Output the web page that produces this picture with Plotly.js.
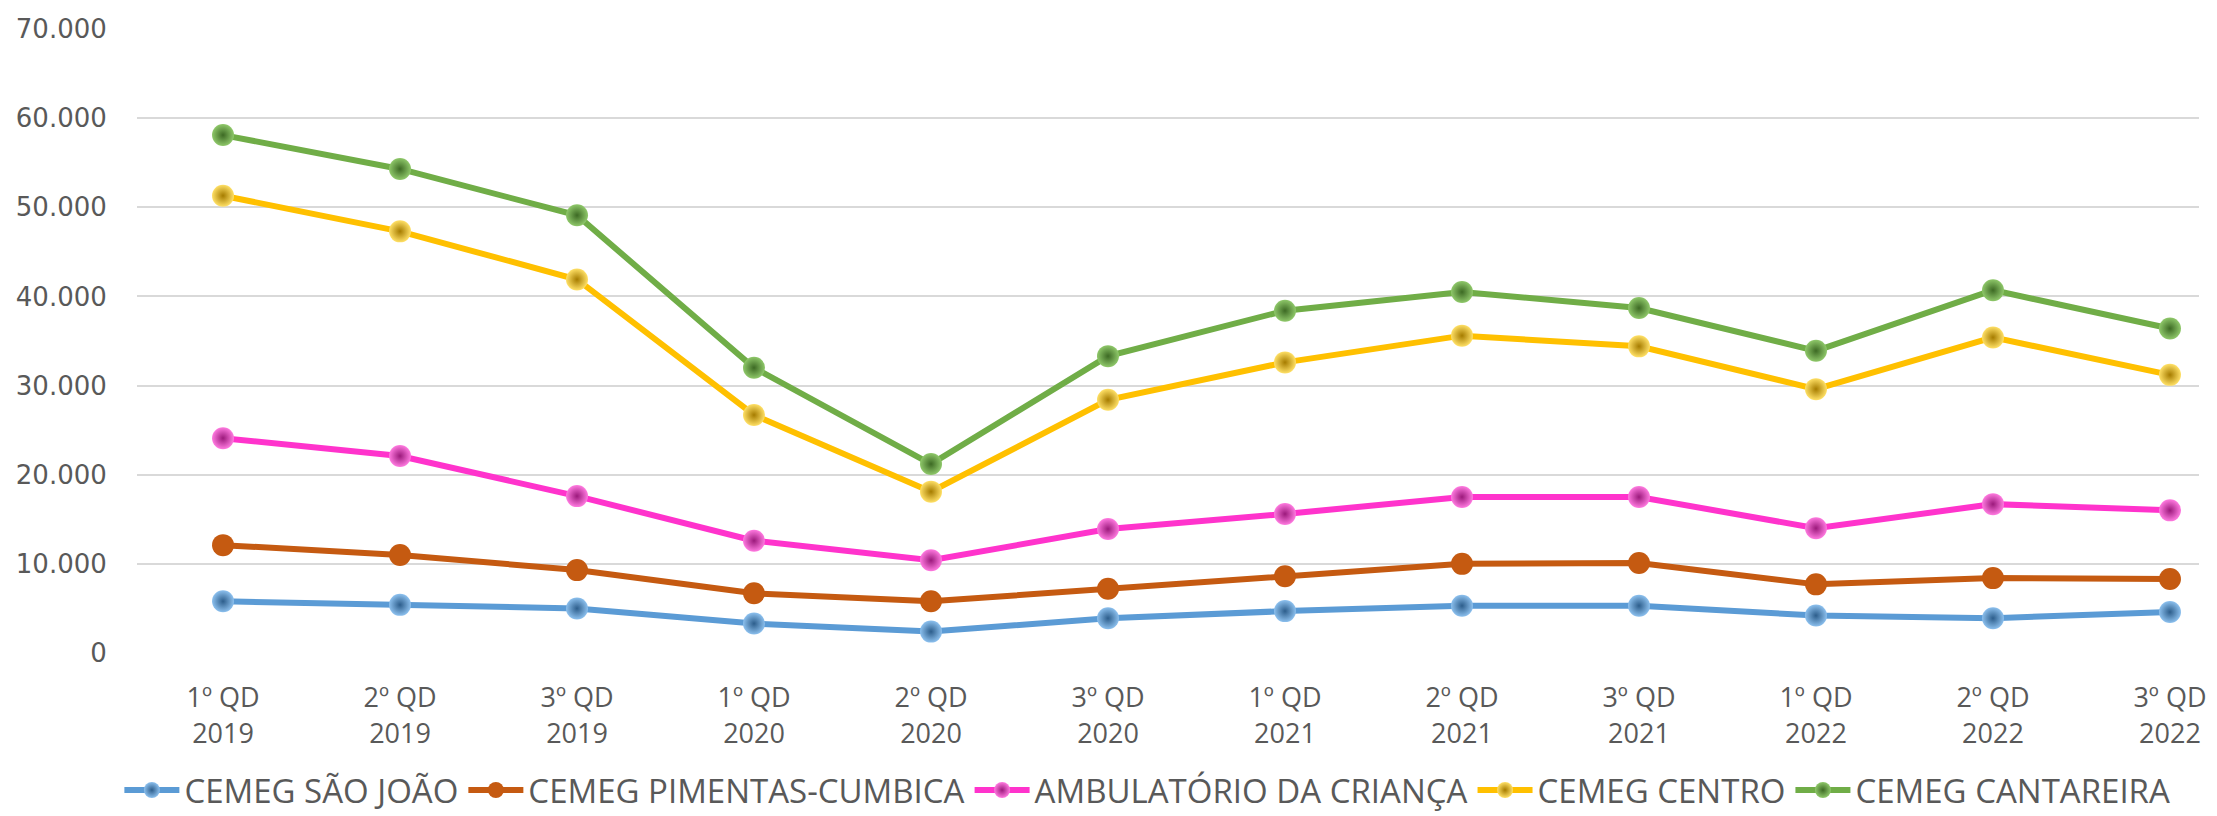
<!DOCTYPE html>
<html>
<head>
<meta charset="utf-8">
<script src="https://cdn.plot.ly/plotly-3.0.1.min.js"></script>
<style>html,body{margin:0;padding:0;background:#fff;}#chart{width:2217px;height:816px;}</style>
</head>
<body>
<div id="chart"></div>
<script>
var categories = ["1º QD<br>2019","2º QD<br>2019","3º QD<br>2019","1º QD<br>2020","2º QD<br>2020","3º QD<br>2020","1º QD<br>2021","2º QD<br>2021","3º QD<br>2021","1º QD<br>2022","2º QD<br>2022","3º QD<br>2022"];
var seriesNames = ["CEMEG SÃO JOÃO","CEMEG PIMENTAS-CUMBICA","AMBULATÓRIO DA CRIANÇA","CEMEG CENTRO","CEMEG CANTAREIRA"];
var saoJoao    = [5800, 5400, 5000, 3300, 2400, 3900, 4700, 5300, 5300, 4200, 3900, 4600];
var pimentas   = [12100, 11000, 9300, 6700, 5800, 7200, 8600, 10000, 10100, 7700, 8400, 8300];
var ambulatorio= [24100, 22100, 17600, 12600, 10400, 13900, 15600, 17500, 17500, 14000, 16700, 16000];
var centro     = [51300, 47300, 41900, 26700, 18100, 28400, 32600, 35600, 34400, 29600, 35400, 31200];
var cantareira = [58100, 54300, 49100, 32000, 21200, 33300, 38400, 40500, 38700, 33900, 40700, 36400];

var seriesValues = [saoJoao, pimentas, ambulatorio, centro, cantareira];
var lineColors = ["#5B9BD5", "#C55A11", "#FF33CC", "#FFC000", "#70AD47"];
var markerCenter = ["#8cc0ee", "#C55A11", "#ff7ae0", "#ffe066", "#8fc86a"];
var markerEdge = ["#2d5e8c", "#C55A11", "#9c1a7c", "#a67c00", "#3d6a24"];

var traces = seriesValues.map(function(vals, i) {
  var t = {
    type: "scatter",
    mode: "lines+markers",
    name: seriesNames[i],
    x: categories,
    y: vals,
    line: {color: lineColors[i], width: 6},
    marker: {size: 22, color: markerCenter[i], line: {width: 0}}
  };
  if (i !== 1) {
    t.marker.gradient = {type: "radial", color: markerEdge[i]};
  }
  return t;
});

var layout = {
  width: 2217,
  height: 816,
  margin: {l: 137, r: 18, t: 29, b: 163, autoexpand: false},
  paper_bgcolor: "#ffffff",
  plot_bgcolor: "#ffffff",
  separators: ",.",
  showlegend: true,
  legend: {
    orientation: "h",
    x: 0.49, xanchor: "center",
    y: -0.2196, yanchor: "middle",
    font: {family: "Open Sans", size: 33, color: "#595959"},
    itemwidth: 55,
    bgcolor: "rgba(0,0,0,0)"
  },
  xaxis: {
    type: "category",
    range: [-0.486, 11.164],
    showgrid: false,
    showline: false,
    zeroline: false,
    ticks: "outside",
    ticklen: 21,
    tickcolor: "rgba(0,0,0,0)",
    tickfont: {family: "Open Sans", size: 27, color: "#595959"}
  },
  yaxis: {
    range: [0, 70000],
    dtick: 10000,
    tick0: 0,
    tickformat: ",d",
    showgrid: true,
    gridcolor: "#d9d9d9",
    gridwidth: 2,
    zeroline: false,
    showline: false,
    ticks: "outside",
    ticklen: 24,
    tickcolor: "rgba(0,0,0,0)",
    tickfont: {family: "DejaVu Sans", size: 26, color: "#595959"}
  }
};

Plotly.newPlot("chart", traces, layout, {displayModeBar: false, staticPlot: true});
</script>
</body>
</html>
